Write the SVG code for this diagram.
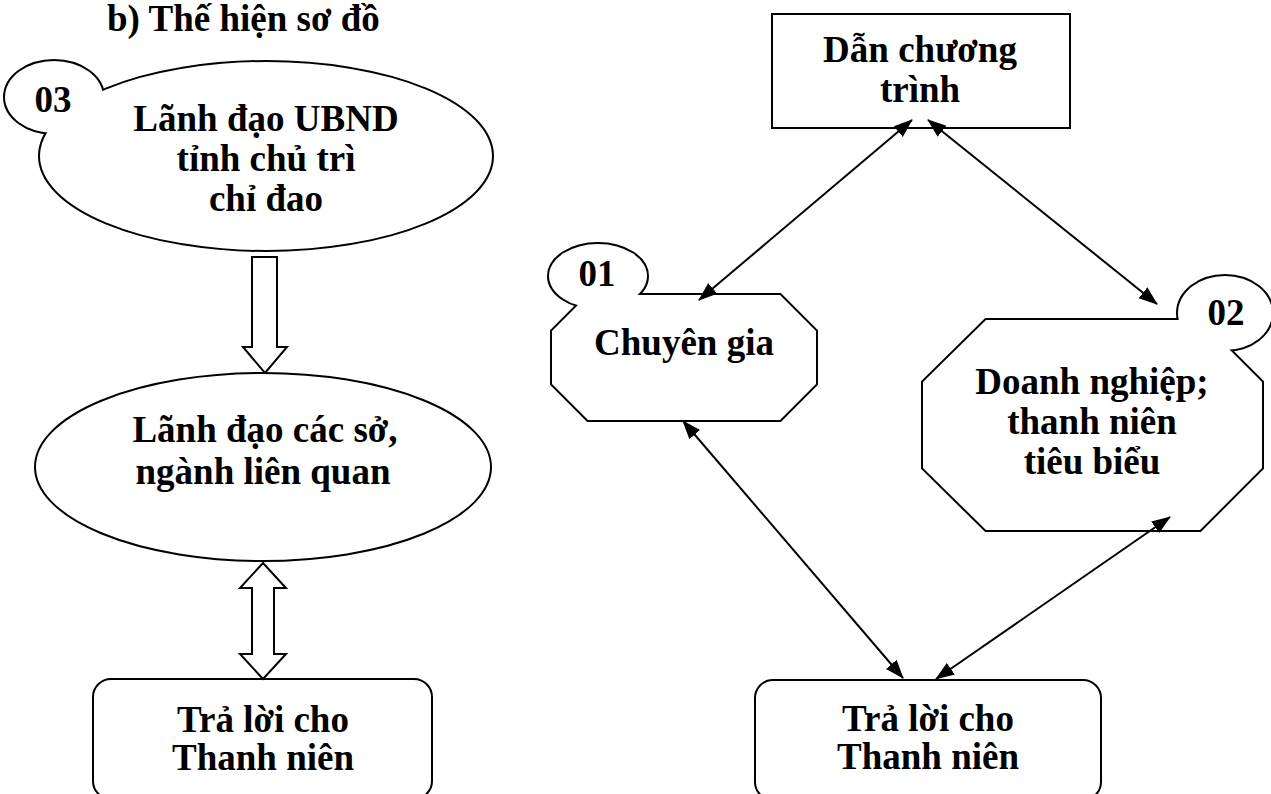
<svg xmlns="http://www.w3.org/2000/svg" width="1271" height="794" viewBox="0 0 1271 794">
<style>
.t{font-family:"Liberation Serif","Times New Roman",serif;font-weight:bold;font-size:37px;fill:#000;text-anchor:middle}
.o{fill:#fff;stroke:#000;stroke-width:4}
.w{fill:#fff;stroke:none}
.s{fill:#fff;stroke:#000;stroke-width:2}
.c{fill:none;stroke:#000;stroke-width:2;marker-start:url(#ah);marker-end:url(#ah)}
.h{fill:#fff;stroke:#000;stroke-width:2;stroke-linejoin:miter}
</style>
<defs>
<marker id="ah" markerUnits="userSpaceOnUse" markerWidth="20" markerHeight="16" viewBox="0 0 20 16" refX="18" refY="8" orient="auto-start-reverse">
<path d="M0,1 L19,8 L0,15 Z" fill="#000"/>
</marker>
</defs>
<rect width="1271" height="794" fill="#fff"/>
<text class="t" x="107" y="31" style="text-anchor:start">b) Thế hiện sơ đồ</text>

<g id="node-ubnd">
<ellipse class="o" cx="266" cy="156" rx="226" ry="94"/>
<ellipse class="o" cx="54" cy="97" rx="49" ry="36"/>
<ellipse class="w" cx="266" cy="156" rx="226" ry="94"/>
<ellipse class="w" cx="54" cy="97" rx="49" ry="36"/>
<text class="t" x="53" y="112">03</text>
<text class="t" x="266" y="131">Lãnh đạo UBND</text>
<text class="t" x="266" y="171">tỉnh chủ trì</text>
<text class="t" x="266" y="211">chỉ đao</text>
</g>

<g id="node-so-nganh">
<ellipse class="s" cx="263" cy="467" rx="228" ry="94"/>
<text class="t" x="265" y="442">Lãnh đạo các sở,</text>
<text class="t" x="263" y="484">ngành liên quan</text>
</g>

<g id="node-tra-loi-left">
<rect class="s" x="93" y="679" width="339" height="120" rx="18"/>
<text class="t" x="263" y="732">Trả lời cho</text>
<text class="t" x="263" y="770">Thanh niên</text>
</g>

<g id="node-dan-chuong-trinh">
<rect class="s" x="772" y="14" width="298" height="114"/>
<text class="t" x="920" y="62">Dẫn chương</text>
<text class="t" x="920" y="102">trình</text>
</g>

<g id="node-chuyen-gia">
<polygon class="o" points="588,295 780,295 816,331 816,384 780,420 588,420 552,384 552,331"/>
<ellipse class="o" cx="598" cy="276" rx="49" ry="32"/>
<polygon class="w" points="588,295 780,295 816,331 816,384 780,420 588,420 552,384 552,331"/>
<ellipse class="w" cx="598" cy="276" rx="49" ry="32"/>
<text class="t" x="597" y="286">01</text>
<text class="t" x="684" y="355">Chuyên gia</text>
</g>

<g id="node-doanh-nghiep">
<polygon class="o" points="986,320 1200,320 1262,382 1262,468 1200,530 986,530 923,468 923,382"/>
<ellipse class="o" cx="1225" cy="313" rx="47" ry="37"/>
<polygon class="w" points="986,320 1200,320 1262,382 1262,468 1200,530 986,530 923,468 923,382"/>
<ellipse class="w" cx="1225" cy="313" rx="47" ry="37"/>
<text class="t" x="1226" y="325">02</text>
<text class="t" x="1092" y="394">Doanh nghiệp;</text>
<text class="t" x="1092" y="434">thanh niên</text>
<text class="t" x="1092" y="474">tiêu biểu</text>
</g>

<g id="node-tra-loi-right">
<rect class="s" x="755" y="680" width="346" height="120" rx="18"/>
<text class="t" x="928" y="731">Trả lời cho</text>
<text class="t" x="928" y="769">Thanh niên</text>
</g>

<g id="connectors">
<polygon class="h" points="252,257 277,257 277,347 287,347 265,373 243,347 252,347"/>
<polygon class="h" points="263,563 286,588 274,588 274,654 286,654 263,679 240,654 252,654 252,588 240,588"/>
<line class="c" x1="912" y1="120" x2="699" y2="300"/>
<line class="c" x1="928" y1="120" x2="1157" y2="304"/>
<line class="c" x1="683" y1="421" x2="903" y2="678"/>
<line class="c" x1="1170" y1="517" x2="936" y2="679"/>
</g>
</svg>
